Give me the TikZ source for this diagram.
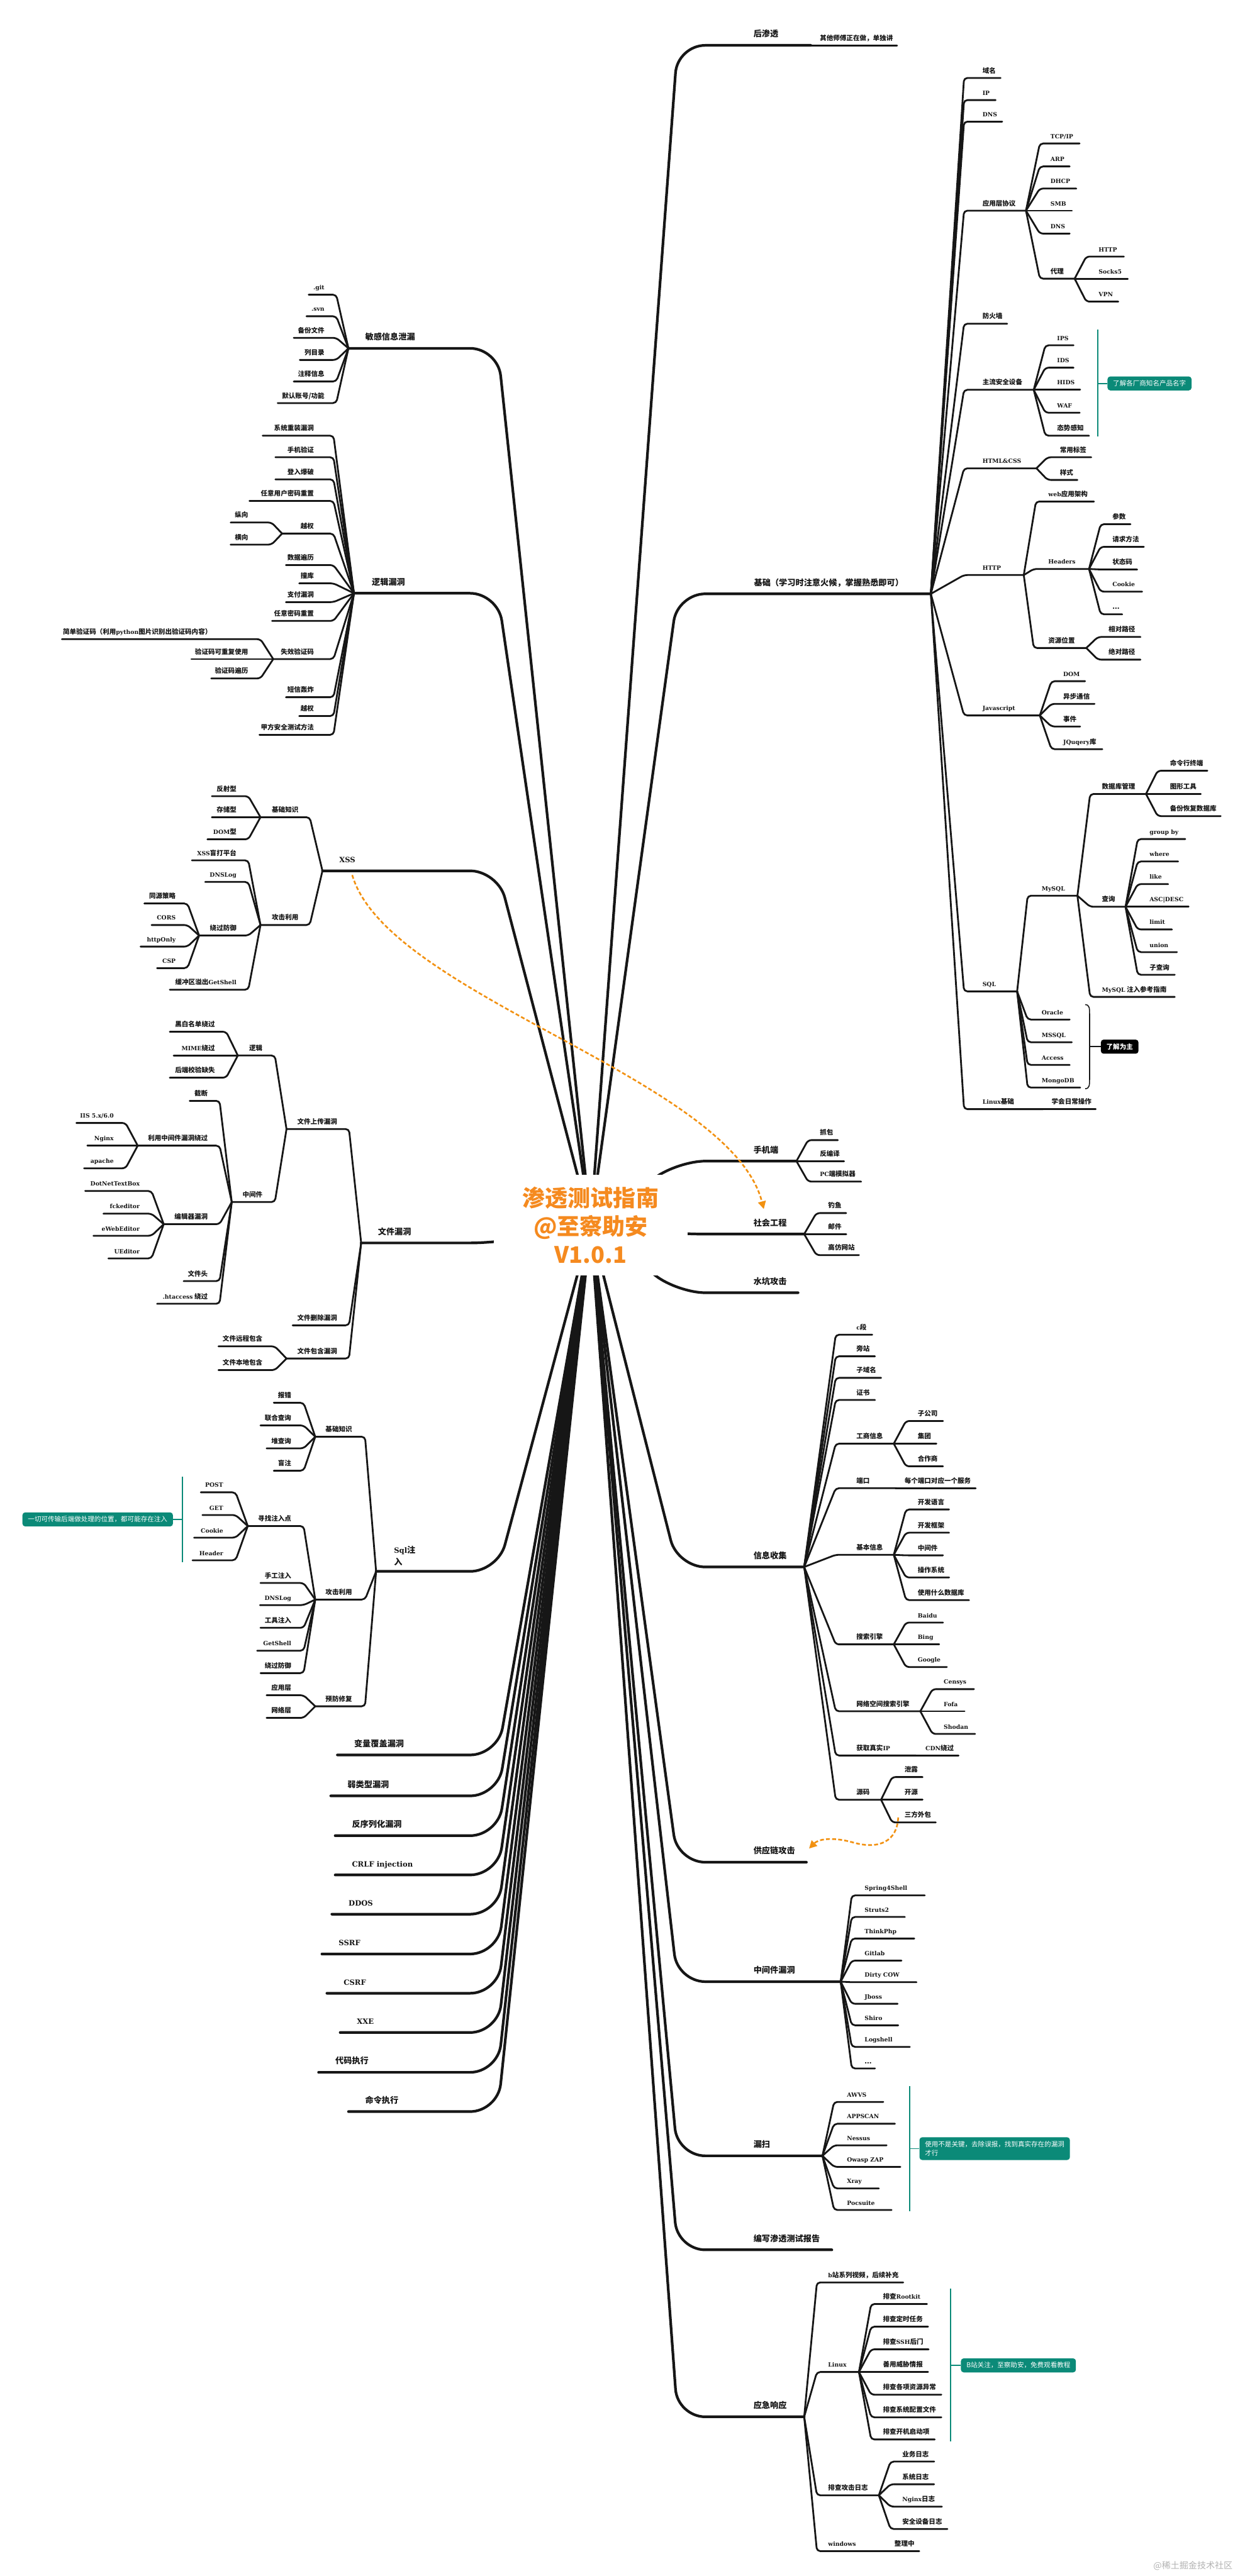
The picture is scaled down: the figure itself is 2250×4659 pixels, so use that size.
\documentclass[tikz,border=0pt]{standalone}
\usepackage{fontspec}
\setmainfont{Noto Sans CJK SC}
\newfontfamily\lat{DejaVu Serif}[Scale=0.88]
\usetikzlibrary{arrows.meta, backgrounds}

\definecolor{inkblack}{HTML}{161616}
\definecolor{titleorange}{HTML}{F58A1F}
\definecolor{linkorange}{HTML}{F29111}
\definecolor{notegreen}{HTML}{0B8A78}

% item on the right: [style]{parent}{name}{line left}{line right}{line y}{text x}{text}
\newcommand{\itemR}[8][lbl]{%
  \coordinate (#3-l) at (#4,#6);
  \coordinate (#3-r) at (#5,#6);
  \node[#1, anchor=base west] (#3) at (#7,#6) {#8};
  \draw[ln] (#2-r) -- (#3-l) -- (#3-r);
}
% item on the left: text ends at text x
\newcommand{\itemL}[8][lbl]{%
  \coordinate (#3-l) at (#4,#6);
  \coordinate (#3-r) at (#5,#6);
  \node[#1, anchor=base east] (#3) at (#7,#6) {#8};
  \draw[ln] (#2-l) -- (#3-r) -- (#3-l);
}
% main topics: {name}{line left}{line right}{line y}{text x}{text}
\newcommand{\topicR}[6]{%
  \coordinate (#1-l) at (#2,#4);
  \coordinate (#1-r) at (#3,#4);
  \node[mainlbl, anchor=base west] (#1) at (#5,#4) {#6};
  \begin{pgfonlayer}{background}
    \draw[mainln] (root.center) -- (#1-l) -- (#1-r);
  \end{pgfonlayer}
}
\newcommand{\topicL}[6]{%
  \coordinate (#1-l) at (#2,#4);
  \coordinate (#1-r) at (#3,#4);
  \node[mainlbl, anchor=base west] (#1) at (#5,#4) {#6};
  \begin{pgfonlayer}{background}
    \draw[mainln] (root.center) -- (#1-r) -- (#1-l);
  \end{pgfonlayer}
}

\begin{document}
\begin{tikzpicture}[x=0.5pt, y=-0.5pt,
    ln/.style={draw=inkblack, line width=1.6pt, line cap=round, line join=round, rounded corners=3pt},
    mainln/.style={draw=inkblack, line width=2.4pt, line cap=round, rounded corners=25pt},
    lbl/.style={inner sep=0pt, yshift=4.5pt, text=inkblack, font=\fontsize{6}{7.5}\selectfont\bfseries},
    mainlbl/.style={inner sep=0pt, yshift=7.5pt, text=inkblack, font=\fontsize{7.5}{10.5}\selectfont\bfseries},
    titlebox/.style={fill=white, text=titleorange, align=center, minimum width=175pt,
                     minimum height=91pt, inner sep=0pt, font=\fontsize{20.5}{25.5}\selectfont\bfseries},
    notebox/.style={fill=notegreen, text=white, rounded corners=2.5pt, inner xsep=5pt,
                    inner ysep=3.5pt, font=\fontsize{6}{8}\selectfont},
    brk/.style={draw=notegreen, line width=1pt},
    rel/.style={draw=linkorange, line width=1.5pt, dash pattern=on 3.5pt off 2pt,
                -{Triangle[length=7pt, width=7pt]}},
    wm/.style={text=black!30, font=\fontsize{8}{9}\selectfont}
]
\useasboundingbox (0,0) rectangle (2250,4659);
\begin{pgfonlayer}{background}
  \fill[white] (0,0) rectangle (2250,4659);
\end{pgfonlayer}

% Root
\node[titlebox] (root) at (1068,2216) {渗透测试指南\\@至察助安\\V1.0.1};

% Post exploitation
\topicR{hst}{1225}{1466}{82}{1362}{后渗透}
\itemR{hst}{qtss}{1470}{1622}{82}{1482}{其他师傅正在做，单独讲}

% Basics
\topicR{jc}{1225}{1683}{1074}{1363}{基础（学习时注意火候，掌握熟悉即可）}
\itemR{jc}{ym}{1743}{1809}{141}{1776}{域名}
\itemR{jc}{ip}{1743}{1800}{181}{1776}{{\lat IP}}
\itemR{jc}{dnsa}{1743}{1812}{220}{1776}{{\lat DNS}}
\itemR{jc}{yyc}{1743}{1855}{381}{1776}{应用层协议}
\itemR{yyc}{tcp}{1880}{1952}{259.5}{1899}{{\lat TCP/IP}}
\itemR{yyc}{arp}{1880}{1934}{301}{1899}{{\lat ARP}}
\itemR{yyc}{dhcp}{1880}{1946}{341}{1899}{{\lat DHCP}}
\itemR{yyc}{smb}{1880}{1938}{381}{1899}{{\lat SMB}}
\itemR{yyc}{dnsb}{1880}{1934}{422.5}{1899}{{\lat DNS}}
\itemR{yyc}{dl}{1880}{1943}{504}{1899}{代理}
\itemR{dl}{httpa}{1964}{2032}{464}{1986}{{\lat HTTP}}
\itemR{dl}{socks}{1964}{2039}{504}{1986}{{\lat Socks5}}
\itemR{dl}{vpn}{1964}{2022}{545.5}{1986}{{\lat VPN}}
\itemR{jc}{fhq}{1743}{1821}{585.5}{1776}{防火墙}
\itemR{jc}{zlaq}{1743}{1869}{705}{1776}{主流安全设备}
\itemR{zlaq}{ips}{1890}{1941}{624.5}{1911}{{\lat IPS}}
\itemR{zlaq}{ids}{1890}{1941}{665}{1911}{{\lat IDS}}
\itemR{zlaq}{hids}{1890}{1953}{705}{1911}{{\lat HIDS}}
\itemR{zlaq}{waf}{1890}{1952}{746.4}{1911}{{\lat WAF}}
\itemR{zlaq}{tsgz}{1890}{1969}{788}{1911}{态势感知}
\itemR{jc}{htmlcss}{1743}{1874}{847}{1776}{{\lat HTML\&CSS}}
\itemR{htmlcss}{cybq}{1894}{1973}{827}{1916}{常用标签}
\itemR{htmlcss}{ys}{1894}{1948}{868}{1916}{样式}
\itemR{jc}{httpb}{1743}{1851}{1040}{1776}{{\lat HTTP}}
\itemR{httpb}{webyy}{1873}{1978}{907}{1895}{{\lat web}应用架构}
\itemR{httpb}{headers}{1869}{1969}{1029}{1895}{{\lat Headers}}
\itemR{headers}{cs}{1990}{2044}{948}{2011}{参数}
\itemR{headers}{qqff}{1990}{2068}{989}{2011}{请求方法}
\itemR{headers}{ztm}{1990}{2056}{1030}{2011}{状态码}
\itemR{headers}{cookiea}{1990}{2065}{1070}{2011}{{\lat Cookie}}
\itemR{headers}{hdots}{1990}{2029}{1111}{2011}{...}
\itemR{httpb}{zywz}{1869}{1964}{1172}{1895}{资源位置}
\itemR{zywz}{xdlj}{1985}{2062}{1152}{2004}{相对路径}
\itemR{zywz}{jdlj}{1985}{2062}{1193}{2004}{绝对路径}
\itemR{jc}{js}{1743}{1880}{1294}{1776}{{\lat Javascript}}
\itemR{js}{dom}{1901}{1962}{1232}{1922}{{\lat DOM}}
\itemR{js}{ybtx}{1901}{1979}{1273}{1922}{异步通信}
\itemR{js}{sj}{1901}{1953}{1314}{1922}{事件}
\itemR{js}{jq}{1901}{1993}{1355}{1922}{{\lat JQuqery}库}
\itemR{jc}{sql}{1743}{1839}{1793}{1776}{{\lat SQL}}
\itemR{sql}{mysql}{1858}{1948}{1620}{1883}{{\lat MySQL}}
\itemR{mysql}{sjkgl}{1971}{2072}{1436}{1992}{数据库管理}
\itemR{sjkgl}{mlh}{2093}{2183}{1394}{2115}{命令行终端}
\itemR{sjkgl}{txgj}{2093}{2171}{1436}{2115}{图形工具}
\itemR{sjkgl}{bfhf}{2093}{2207}{1476}{2115}{备份恢复数据库}
\itemR{mysql}{cx}{1971}{2035}{1640}{1992}{查询}
\itemR{cx}{groupby}{2057}{2143}{1517.5}{2078}{{\lat group by}}
\itemR{cx}{where}{2057}{2130}{1558}{2078}{{\lat where}}
\itemR{cx}{like}{2057}{2112}{1599}{2078}{{\lat like}}
\itemR{cx}{ascdesc}{2057}{2149}{1640}{2078}{{\lat ASC|DESC}}
\itemR{cx}{limit}{2057}{2119}{1681}{2078}{{\lat limit}}
\itemR{cx}{union}{2057}{2128}{1722}{2078}{{\lat union}}
\itemR{cx}{zcx}{2057}{2124}{1763}{2078}{子查询}
\itemR{mysql}{zrzn}{1971}{2124}{1803}{1992}{{\lat MySQL} 注入参考指南}
\itemR{sql}{oracle}{1858}{1934}{1844}{1883}{{\lat Oracle}}
\itemR{sql}{mssql}{1858}{1938}{1885}{1883}{{\lat MSSQL}}
\itemR{sql}{access}{1858}{1934}{1926}{1883}{{\lat Access}}
\itemR{sql}{mongo}{1858}{1953}{1967}{1883}{{\lat MongoDB}}
\itemR{jc}{linuxjc}{1743}{1886}{2006}{1776}{{\lat Linux}基础}
\itemR{linuxjc}{xhrc}{1890}{1981}{2006}{1901}{学会日常操作}

% Mobile, social, watering hole
\topicR{sjd}{1225}{1440}{2100}{1362}{手机端}
\itemR{sjd}{zb}{1461}{1515}{2062}{1482}{抓包}
\itemR{sjd}{fby}{1461}{1526}{2100}{1482}{反编译}
\itemR{sjd}{pcmn}{1461}{1557}{2137}{1482}{{\lat PC}端模拟器}
\topicR{shgc}{1225}{1454}{2232}{1362}{社会工程}
\itemR{shgc}{dy}{1476}{1530}{2194}{1497}{钓鱼}
\itemR{shgc}{yj}{1476}{1530}{2232}{1497}{邮件}
\itemR{shgc}{gfwz}{1476}{1553}{2270}{1497}{高仿网站}
\topicR{skgj}{1225}{1443}{2338}{1362}{水坑攻击}

% Information gathering
\topicR{xxsj}{1225}{1454}{2834}{1362}{信息收集}
\itemR{xxsj}{cd}{1511}{1577}{2414}{1548}{{\lat c}段}
\itemR{xxsj}{pz}{1511}{1582}{2453}{1548}{旁站}
\itemR{xxsj}{zym}{1511}{1593}{2492}{1548}{子域名}
\itemR{xxsj}{zs}{1511}{1582}{2532}{1548}{证书}
\itemR{xxsj}{gsxx}{1511}{1616}{2611}{1548}{工商信息}
\itemR{gsxx}{zgs}{1638}{1705}{2570}{1659}{子公司}
\itemR{gsxx}{jt}{1638}{1693}{2611}{1659}{集团}
\itemR{gsxx}{hzs}{1638}{1705}{2652}{1659}{合作商}
\itemR{xxsj}{dk}{1511}{1621}{2691.5}{1548}{端口}
\itemR{dk}{mgdk}{1625}{1764}{2691.5}{1635}{每个端口对应一个服务}
\itemR{xxsj}{jbxx}{1511}{1616}{2812}{1548}{基本信息}
\itemR{jbxx}{kfyy}{1638}{1716}{2730}{1659}{开发语言}
\itemR{jbxx}{kfkj}{1638}{1716}{2772}{1659}{开发框架}
\itemR{jbxx}{zjja}{1638}{1705}{2813}{1659}{中间件}
\itemR{jbxx}{czxt}{1638}{1716}{2853}{1659}{操作系统}
\itemR{jbxx}{sjk}{1638}{1752}{2894}{1659}{使用什么数据库}
\itemR{xxsj}{ssyq}{1511}{1616}{2974}{1548}{搜索引擎}
\itemR{ssyq}{baidu}{1638}{1705}{2934.5}{1659}{{\lat Baidu}}
\itemR{ssyq}{bing}{1638}{1698}{2974}{1659}{{\lat Bing}}
\itemR{ssyq}{google}{1638}{1712}{3015}{1659}{{\lat Google}}
\itemR{xxsj}{wlkj}{1511}{1664}{3095}{1548}{网络空间搜索引擎}
\itemR{wlkj}{censys}{1686}{1761}{3055}{1706}{{\lat Censys}}
\itemR{wlkj}{fofa}{1686}{1744}{3095}{1706}{{\lat Fofa}}
\itemR{wlkj}{shodan}{1686}{1763}{3136}{1706}{{\lat Shodan}}
\itemR{xxsj}{hqip}{1511}{1656}{3175}{1548}{获取真实{\lat IP}}
\itemR{hqip}{cdn}{1660}{1733}{3175}{1673}{{\lat CDN}绕过}
\itemR{xxsj}{ym}{1511}{1593}{3255}{1548}{源码}
\itemR{ym}{xl}{1613}{1668}{3214}{1635}{泄露}
\itemR{ym}{ky}{1613}{1668}{3255}{1635}{开源}
\itemR{ym}{sfwb}{1613}{1692}{3296}{1635}{三方外包}

% Supply chain, middleware, scanners, report
\topicR{gylgj}{1225}{1458}{3368}{1362}{供应链攻击}
\topicR{zjjld}{1225}{1520}{3584}{1362}{中间件漏洞}
\itemR{zjjld}{spring}{1540}{1672}{3428}{1563}{{\lat Spring4Shell}}
\itemR{zjjld}{struts}{1540}{1636}{3467}{1563}{{\lat Struts2}}
\itemR{zjjld}{thinkphp}{1540}{1653}{3506}{1563}{{\lat ThinkPhp}}
\itemR{zjjld}{gitlab}{1540}{1630}{3546}{1563}{{\lat Gitlab}}
\itemR{zjjld}{dcow}{1540}{1657}{3585}{1563}{{\lat Dirty COW}}
\itemR{zjjld}{jboss}{1540}{1623}{3624}{1563}{{\lat Jboss}}
\itemR{zjjld}{shiro}{1540}{1624}{3663}{1563}{{\lat Shiro}}
\itemR{zjjld}{logshell}{1540}{1645}{3702}{1563}{{\lat Logshell}}
\itemR{zjjld}{mdots}{1540}{1582}{3741}{1563}{...}
\topicR{ls}{1225}{1487}{3899}{1362}{漏扫}
\itemR{ls}{awvs}{1508}{1597}{3801.5}{1531}{{\lat AWVS}}
\itemR{ls}{appscan}{1508}{1618}{3841}{1531}{{\lat APPSCAN}}
\itemR{ls}{nessus}{1508}{1603}{3880}{1531}{{\lat Nessus}}
\itemR{ls}{zap}{1508}{1628}{3919}{1531}{{\lat Owasp ZAP}}
\itemR{ls}{xray}{1508}{1589}{3958}{1531}{{\lat Xray}}
\itemR{ls}{pocsuite}{1508}{1612}{3997}{1531}{{\lat Pocsuite}}
\topicR{bxbg}{1225}{1504}{4069}{1362}{编写渗透测试报告}

% Incident response
\topicR{yjxy}{1225}{1454}{4371}{1362}{应急响应}
\itemR{yjxy}{bz}{1477}{1633}{4128}{1497}{{\lat b}站系列视频，后续补充}
\itemR{yjxy}{linuxb}{1477}{1553}{4290}{1497}{{\lat Linux}}
\itemR{linuxb}{rootkit}{1575}{1676}{4167}{1596}{排查{\lat Rootkit}}
\itemR{linuxb}{dsrw}{1575}{1678}{4208}{1596}{排查定时任务}
\itemR{linuxb}{sshhm}{1575}{1679}{4249}{1596}{排查{\lat SSH}后门}
\itemR{linuxb}{wxqb}{1575}{1678}{4290}{1596}{善用威胁情报}
\itemR{linuxb}{zyyc}{1575}{1702}{4331}{1596}{排查各项资源异常}
\itemR{linuxb}{pzwj}{1575}{1702}{4372}{1596}{排查系统配置文件}
\itemR{linuxb}{kjqd}{1575}{1690}{4412}{1596}{排查开机启动项}
\itemR{yjxy}{gjrz}{1477}{1589}{4513}{1497}{排查攻击日志}
\itemR{gjrz}{ywrz}{1610}{1689}{4452}{1631}{业务日志}
\itemR{gjrz}{xtrz}{1610}{1689}{4493}{1631}{系统日志}
\itemR{gjrz}{ngrz}{1610}{1703}{4533.5}{1631}{{\lat Nginx}日志}
\itemR{gjrz}{aqrz}{1610}{1713}{4574}{1631}{安全设备日志}
\itemR{yjxy}{windows}{1477}{1601}{4614}{1497}{{\lat windows}}
\itemR{windows}{zlz}{1605}{1662}{4614}{1617}{整理中}

% Sensitive information
\topicL{mgxx}{630}{900}{630}{660}{敏感信息泄漏}
\itemL{mgxx}{git}{558}{608}{533}{587}{{\lat .git}}
\itemL{mgxx}{svn}{554}{608}{572}{587}{{\lat .svn}}
\itemL{mgxx}{bfwj}{531}{608}{611}{587}{备份文件}
\itemL{mgxx}{lml}{542}{608}{651}{587}{列目录}
\itemL{mgxx}{zsxx}{531}{608}{690}{587}{注释信息}
\itemL{mgxx}{mrzh}{502}{608}{729}{587}{默认账号/功能}

% Logic flaws
\topicL{ljld}{640}{900}{1073}{672}{逻辑漏洞}
\itemL{ljld}{xtcz}{475}{603}{788}{568}{系统重装漏洞}
\itemL{ljld}{sjyz}{498}{603}{827}{568}{手机验证}
\itemL{ljld}{dlbp}{498}{603}{867}{568}{登入爆破}
\itemL{ljld}{ryyh}{451}{603}{906}{568}{任意用户密码重置}
\itemL{ljld}{yqa}{510}{603}{965}{568}{越权}
\itemL{yqa}{zx}{417}{491}{945}{449}{纵向}
\itemL{yqa}{hx}{417}{491}{985}{449}{横向}
\itemL{ljld}{sjbl}{517}{603}{1022}{568}{数据遍历}
\itemL{ljld}{zk}{541}{603}{1055}{568}{撞库}
\itemL{ljld}{zfld}{517}{603}{1089}{568}{支付漏洞}
\itemL{ljld}{ryma}{492}{603}{1123}{568}{任意密码重置}
\itemL{ljld}{sxyzm}{494}{603}{1192}{568}{失效验证码}
\itemL{sxyzm}{jdyzm}{112}{471}{1156}{383}{简单验证码（利用{\lat python}图片识别出验证码内容）}
\itemL{sxyzm}{cfsy}{346}{471}{1192}{449}{验证码可重复使用}
\itemL{sxyzm}{yzmbl}{382}{471}{1227}{449}{验证码遍历}
\itemL{ljld}{dxhz}{517}{603}{1261}{568}{短信轰炸}
\itemL{ljld}{yqb}{541}{603}{1295}{568}{越权}
\itemL{ljld}{jfaq}{469}{603}{1329}{568}{甲方安全测试方法}

% XSS
\topicL{xss}{583}{900}{1575}{613}{{\lat XSS}}
\itemL{xss}{jczsa}{471}{560}{1478}{540}{基础知识}
\itemL{jczsa}{fsx}{383}{449}{1440}{428}{反射型}
\itemL{jczsa}{ccx}{383}{449}{1478}{428}{存储型}
\itemL{jczsa}{domx}{375}{449}{1518}{428}{{\lat DOM}型}
\itemL{xss}{gjlya}{471}{560}{1673}{540}{攻击利用}
\itemL{gjlya}{xssmd}{347}{449}{1556}{428}{{\lat XSS}盲打平台}
\itemL{gjlya}{dnsloga}{371}{449}{1595}{428}{{\lat DNSLog}}
\itemL{gjlya}{rgfya}{360}{449}{1692}{428}{绕过防御}
\itemL{rgfya}{tyyl}{261}{339}{1634}{318}{同源策略}
\itemL{rgfya}{cors}{274}{339}{1673}{318}{{\lat CORS}}
\itemL{rgfya}{httponly}{254}{339}{1712}{318}{{\lat httpOnly}}
\itemL{rgfya}{csp}{284}{339}{1751}{318}{{\lat CSP}}
\itemL{gjlya}{hcq}{307}{449}{1790}{428}{缓冲区溢出{\lat GetShell}}

% File flaws
\topicL{wjld}{653}{900}{2248}{683}{文件漏洞}
\itemL{wjld}{wjsc}{518}{631}{2042}{610}{文件上传漏洞}
\itemL{wjsc}{lj}{430}{497}{1909}{475}{逻辑}
\itemL{lj}{hbmd}{307}{409}{1866}{389}{黑白名单绕过}
\itemL{lj}{mime}{314}{409}{1909}{389}{{\lat MIME}绕过}
\itemL{lj}{hdjy}{307}{409}{1949}{389}{后端校验缺失}
\itemL{wjsc}{zjjb}{419}{497}{2174}{475}{中间件}
\itemL{zjjb}{jd}{343}{397}{1991}{376}{截断}
\itemL{zjjb}{lyzjj}{249}{397}{2072}{376}{利用中间件漏洞绕过}
\itemL{lyzjj}{iis}{138}{227}{2031}{206}{{\lat IIS 5.x/6.0}}
\itemL{lyzjj}{nginxa}{158}{227}{2072}{206}{{\lat Nginx}}
\itemL{lyzjj}{apache}{152}{227}{2113}{206}{{\lat apache}}
\itemL{zjjb}{bjq}{296}{397}{2214}{376}{编辑器漏洞}
\itemL{bjq}{dotnet}{154}{274}{2154}{253}{{\lat DotNetTextBox}}
\itemL{bjq}{fck}{187}{274}{2195}{253}{{\lat fckeditor}}
\itemL{bjq}{eweb}{169}{274}{2235}{253}{{\lat eWebEditor}}
\itemL{bjq}{ueditor}{196}{274}{2276}{253}{{\lat UEditor}}
\itemL{zjjb}{wjt}{332}{397}{2317}{376}{文件头}
\itemL{zjjb}{htaccess}{284}{397}{2358}{376}{{\lat .htaccess} 绕过}
\itemL{wjld}{wjscb}{529}{631}{2397}{610}{文件删除漏洞}
\itemL{wjld}{wjbh}{518}{631}{2457}{610}{文件包含漏洞}
\itemL{wjbh}{ycbh}{395}{497}{2435}{475}{文件远程包含}
\itemL{wjbh}{bdbh}{395}{497}{2478}{475}{文件本地包含}

% SQL injection
\coordinate (sqlzr-l) at (680,2842);
\coordinate (sqlzr-r) at (900,2842);
\node[inner sep=0pt, text=inkblack, font=\fontsize{7.5}{10.5}\selectfont\bfseries,
      align=left, anchor=south west] (sqlzr) at (712,2832) {{\lat Sql}注\\入};
\begin{pgfonlayer}{background}
  \draw[mainln] (root.center) -- (sqlzr-r) -- (sqlzr-l);
\end{pgfonlayer}
\itemL{sqlzr}{jczsb}{570}{660}{2598.5}{637}{基础知识}
\itemL{jczsb}{bc}{495}{549}{2537}{527}{报错}
\itemL{jczsb}{lhcx}{471}{549}{2578}{527}{联合查询}
\itemL{jczsb}{dcx}{482}{549}{2619.5}{527}{堆查询}
\itemL{jczsb}{mz}{495}{549}{2660}{527}{盲注}
\itemL{sqlzr}{gjlyb}{570}{660}{2893}{637}{攻击利用}
\itemL{gjlyb}{zzrd}{448}{549}{2760}{527}{寻找注入点}
\itemL{zzrd}{post}{363}{426}{2699}{404}{{\lat POST}}
\itemL{zzrd}{get}{366}{426}{2740}{404}{{\lat GET}}
\itemL{zzrd}{cookieb}{351}{426}{2781}{404}{{\lat Cookie}}
\itemL{zzrd}{header}{348}{426}{2822}{404}{{\lat Header}}
\itemL{gjlyb}{sgzr}{471}{549}{2863}{527}{手工注入}
\itemL{gjlyb}{dnslogb}{470}{549}{2903}{527}{{\lat DNSLog}}
\itemL{gjlyb}{gjzr}{471}{549}{2944}{527}{工具注入}
\itemL{gjlyb}{getshell}{465}{549}{2985.5}{527}{{\lat GetShell}}
\itemL{gjlyb}{rgfyb}{471}{549}{3026}{527}{绕过防御}
\itemL{sqlzr}{yffx}{570}{660}{3086}{637}{预防修复}
\itemL{yffx}{yycb}{482}{549}{3066}{527}{应用层}
\itemL{yffx}{wlc}{482}{549}{3107}{527}{网络层}

% Other flaws
\topicL{blfg}{610}{900}{3174}{640}{变量覆盖漏洞}
\topicL{rlx}{598}{900}{3248}{628}{弱类型漏洞}
\topicL{fxlh}{606}{900}{3320}{636}{反序列化漏洞}
\topicL{crlf}{606}{900}{3391}{636}{{\lat CRLF injection}}
\topicL{ddos}{600}{900}{3462}{630}{{\lat DDOS}}
\topicL{ssrf}{582}{900}{3534}{612}{{\lat SSRF}}
\topicL{csrf}{591}{900}{3605}{621}{{\lat CSRF}}
\topicL{xxe}{615}{900}{3676}{645}{{\lat XXE}}
\topicL{dmzx}{576}{900}{3748}{606}{代码执行}
\topicL{mlzx}{630}{900}{3819}{660}{命令执行}

% Notes
\coordinate (bra-t) at (1985,596);
\coordinate (bra-b) at (1985,789);
\draw[brk] (bra-t) -- (bra-b);
\node[notebox, anchor=west] (nta) at (2002,693.5) {了解各厂商知名产品名字};
\draw[brk] (bra-t |- nta.west) -- (nta.west);

\coordinate (brb-t) at (1962,1817);
\coordinate (brb-b) at (1962,1969);
\draw[inkblack, line width=0.9pt] (brb-t) .. controls (1970,1817) and (1970,1824) .. (1970,1834)
  -- (1970,1952) .. controls (1970,1962) and (1970,1969) .. (brb-b);
\node[notebox, fill=black, font=\fontsize{6}{8}\selectfont\bfseries, anchor=west] (ntb) at (1990,1893) {了解为主};
\draw[inkblack, line width=0.9pt] (1970,1893) -- (ntb.west);

\coordinate (brc-t) at (1645,3773);
\coordinate (brc-b) at (1645,3999);
\draw[brk] (brc-t) -- (brc-b);
\node[notebox, align=left, anchor=west] (ntc) at (1662,3886) {使用不是关键，去除误报，找到真实存在的漏洞\\才行};
\draw[brk] (brc-t |- ntc.west) -- (ntc.west);

\coordinate (brd-t) at (1719,4139);
\coordinate (brd-b) at (1719,4415);
\draw[brk] (brd-t) -- (brd-b);
\node[notebox, anchor=west] (ntd) at (1737,4278) {B站关注，至察助安，免费观看教程};
\draw[brk] (brd-t |- ntd.west) -- (ntd.west);

\coordinate (bre-t) at (330,2671);
\coordinate (bre-b) at (330,2825);
\draw[brk] (bre-t) -- (bre-b);
\node[notebox, anchor=east] (nte) at (313,2748) {一切可传输后端做处理的位置，都可能存在注入};
\draw[brk] (bre-t |- nte.east) -- (nte.east);

% Relations
\draw[rel] ([xshift=-3pt, yshift=-11pt]xss.south east) .. controls (700,1800) and (1320,1950) .. ([xshift=9.5pt, yshift=8.5pt]shgc.north west);
\draw[rel] ([xshift=-5.5pt]sfwb.base west) .. controls (1622,3330) and (1590,3345) .. (1545,3333)
  .. controls (1500,3320) and (1478,3328) .. ([xshift=12.5pt, yshift=2pt]gylgj.east);

% Watermark
\node[wm] (wmark) at (2157,4640) {@稀土掘金技术社区};

\end{tikzpicture}
\end{document}
